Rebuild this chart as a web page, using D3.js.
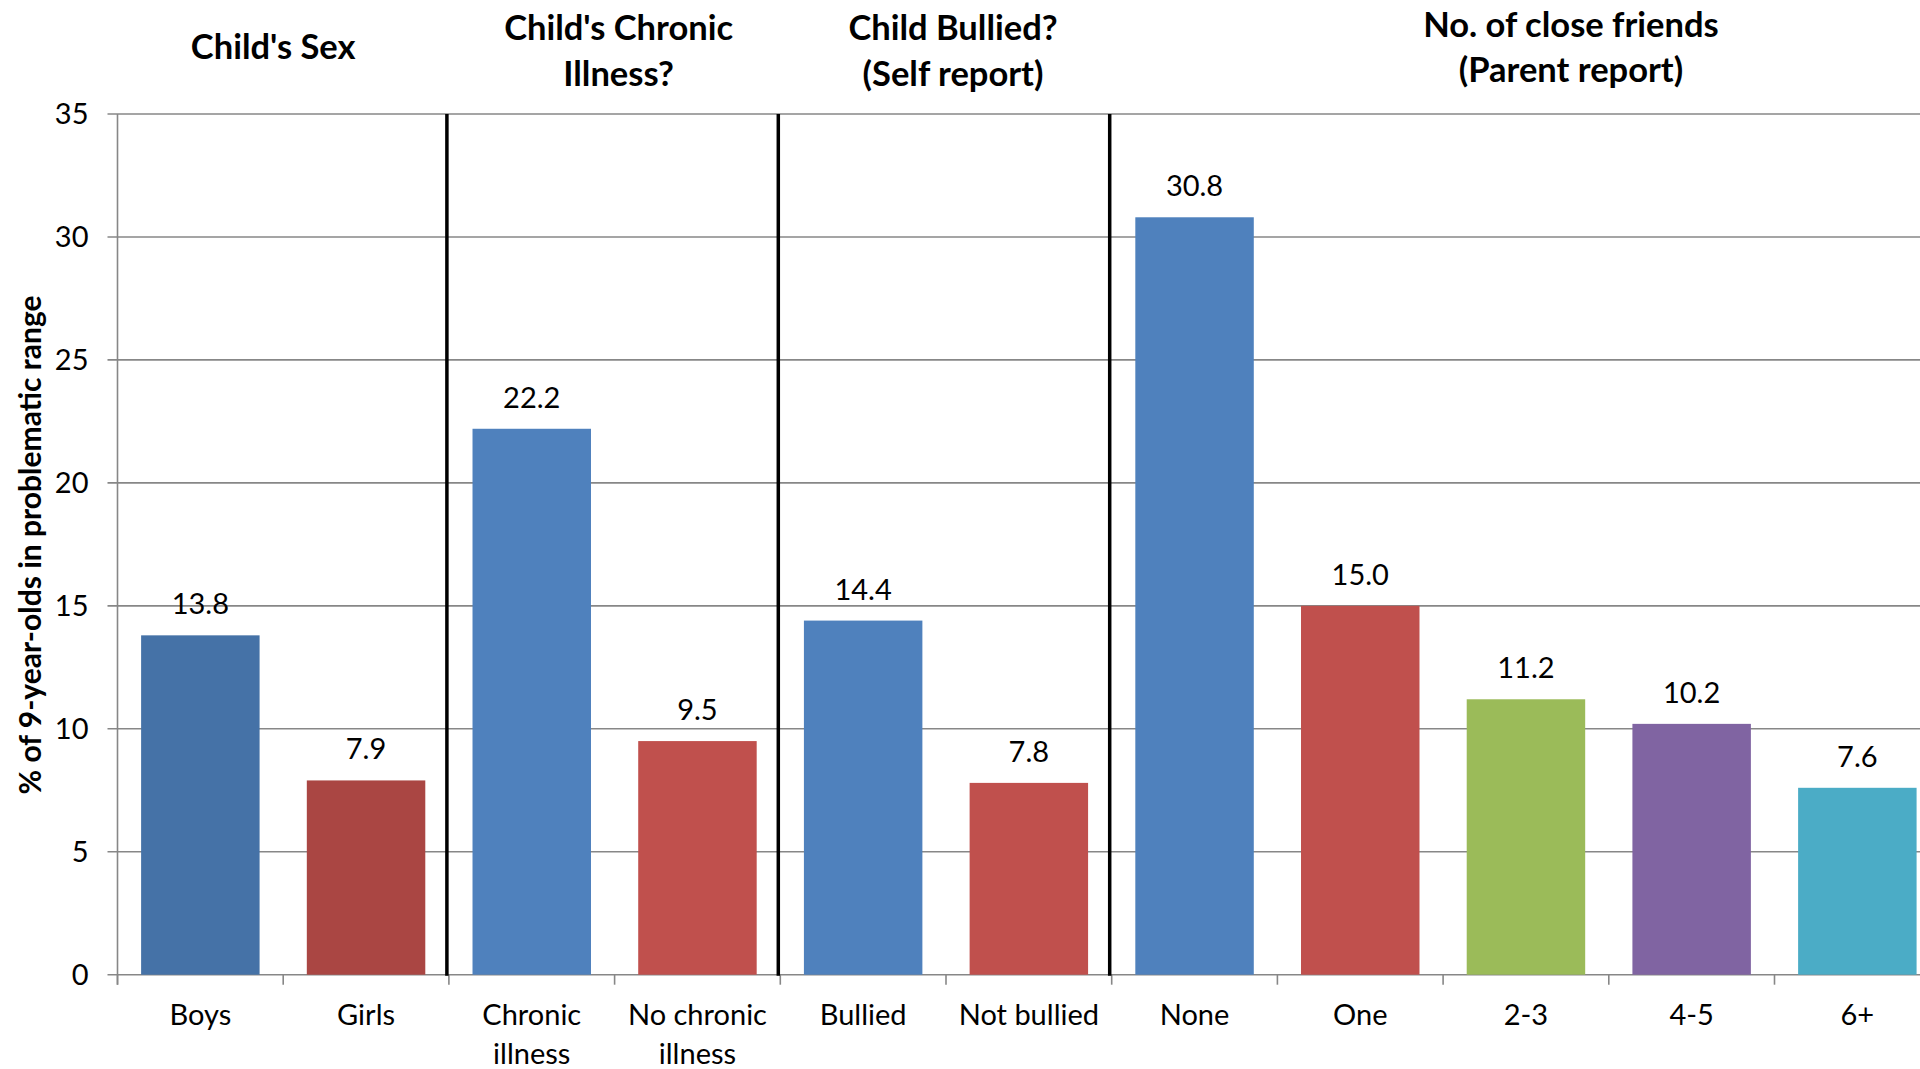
<!DOCTYPE html>
<html>
<head>
<meta charset="utf-8">
<script src="https://cdn.jsdelivr.net/npm/d3@7"></script>
<style>
  body { margin: 0; background: #fff; }
  svg { display: block; font-family: Lato, "Open Sans", sans-serif; }
</style>
</head>
<body>
<div class="chart"></div>
<script>
// data
const categories = ["Boys", "Girls", "Chronic\nillness", "No chronic\nillness", "Bullied", "Not bullied",
                    "None", "One", "2-3", "4-5", "6+"]
const values = [13.8, 7.9, 22.2, 9.5, 14.4, 7.8, 30.8, 15.0, 11.2, 10.2, 7.6]
const barColors = ["#4572A7", "#AA4643", "#4F81BD", "#C0504D", "#4F81BD", "#C0504D",
                   "#4F81BD", "#C0504D", "#9BBB59", "#8064A2", "#4BACC6"]
// group titles: [first category index, last category index]
const groupTitles = ["Child's Sex", "Child's Chronic\nIllness?", "Child Bullied?\n(Self report)", "No. of close friends\n(Parent report)"]
const groupSpans = [[0, 1], [2, 3], [4, 5], [6, 10]]
const yTicks = [0, 5, 10, 15, 20, 25, 30, 35]
const yLabel = "% of 9-year-olds in problematic range"

// size
const width = 1920
const height = 1069
const margin = ({ top: 114, left: 117.5, bottom: 94 })
const step = 165.7

const svg = d3.select(".chart")
    .append("svg")
    .attr("width", width)
    .attr("height", height)

// scales
const xScale = d3.scaleBand()
    .domain(d3.range(categories.length))
    .range([margin.left, margin.left + step * categories.length])
    .paddingInner(0.285)
    .paddingOuter(0.1425)

const yScale = d3.scaleLinear()
    .domain([0, 35])
    .range([height - margin.bottom - 0.3, margin.top])

const x0 = xScale.range()[0]
const bound = i => x0 + i * xScale.step()

// gridlines
svg.append("g")
    .selectAll("line")
    .data(yTicks)
    .join("line")
    .attr("x1", margin.left - 10)
    .attr("x2", width)
    .attr("y1", d => yScale(d))
    .attr("y2", d => yScale(d))
    .attr("stroke", "#878787")
    .attr("stroke-width", 1.6)

// y axis line
svg.append("line")
    .attr("x1", margin.left).attr("x2", margin.left)
    .attr("y1", yScale(35)).attr("y2", yScale(0) + 10)
    .attr("stroke", "#878787")
    .attr("stroke-width", 1.6)

// x ticks
svg.append("g")
    .selectAll("line")
    .data(d3.range(categories.length + 1))
    .join("line")
    .attr("x1", d => bound(d))
    .attr("x2", d => bound(d))
    .attr("y1", yScale(0))
    .attr("y2", yScale(0) + 10)
    .attr("stroke", "#878787")
    .attr("stroke-width", 1.6)

// bars
svg.append("g")
    .selectAll("rect")
    .data(values)
    .join("rect")
    .attr("x", (d, i) => xScale(i))
    .attr("width", xScale.bandwidth())
    .attr("y", d => yScale(d))
    .attr("height", d => yScale(0) - yScale(d))
    .attr("fill", (d, i) => barColors[i])

// group separators (black)
svg.append("g")
    .selectAll("line")
    .data(groupSpans.slice(1))
    .join("line")
    .attr("x1", d => bound(d[0]) - 2)
    .attr("x2", d => bound(d[0]) - 2)
    .attr("y1", yScale(35))
    .attr("y2", yScale(0) + 1)
    .attr("stroke", "#000")
    .attr("stroke-width", 3.5)

// value labels
svg.append("g")
    .selectAll("text")
    .data(values)
    .join("text")
    .attr("x", (d, i) => xScale(i) + xScale.bandwidth() / 2)
    .attr("y", d => yScale(d) - 21)
    .attr("text-anchor", "middle")
    .attr("font-size", 29)
    .attr("fill", "#000")
    .text(d => d3.format(".1f")(d))

// y tick labels
svg.append("g")
    .selectAll("text")
    .data(yTicks)
    .join("text")
    .attr("x", margin.left - 29)
    .attr("y", d => yScale(d) + 10)
    .attr("text-anchor", "end")
    .attr("font-size", 29)
    .text(d => d)

// x labels (may wrap to 2 lines)
svg.append("g")
    .selectAll("text")
    .data(categories)
    .join("text")
    .attr("text-anchor", "middle")
    .attr("font-size", 29)
    .attr("x", (d, i) => xScale(i) + xScale.bandwidth() / 2)
    .attr("y", 1025)
    .selectAll("tspan")
    .data(d => d.split("\n"))
    .join("tspan")
    .attr("x", function () { return this.parentNode.getAttribute("x") })
    .attr("dy", (d, i) => i ? 39 : 0)
    .text(d => d)

// group titles
const titleNudge = [-10, 4, 7, 45]
svg.append("g")
    .selectAll("text")
    .data(groupTitles)
    .join("text")
    .attr("text-anchor", "middle")
    .attr("font-size", 34.5)
    .attr("font-weight", "bold")
    .attr("x", (d, i) => (bound(groupSpans[i][0]) + bound(groupSpans[i][1] + 1)) / 2 + titleNudge[i])
    .attr("y", (d, i) => d.includes("\n") ? (i == 3 ? 36.5 : 40) : 58.5)
    .selectAll("tspan")
    .data(d => d.split("\n"))
    .join("tspan")
    .attr("x", function () { return this.parentNode.getAttribute("x") })
    .attr("dy", (d, i) => i ? 45.5 : 0)
    .text(d => d)

// y axis title
svg.append("text")
    .attr("transform", "translate(" + 41 + "," + 545 + ") rotate(-90)")
    .attr("text-anchor", "middle")
    .attr("font-size", 30)
    .attr("font-weight", "bold")
    .text(yLabel)
</script>
</body>
</html>
